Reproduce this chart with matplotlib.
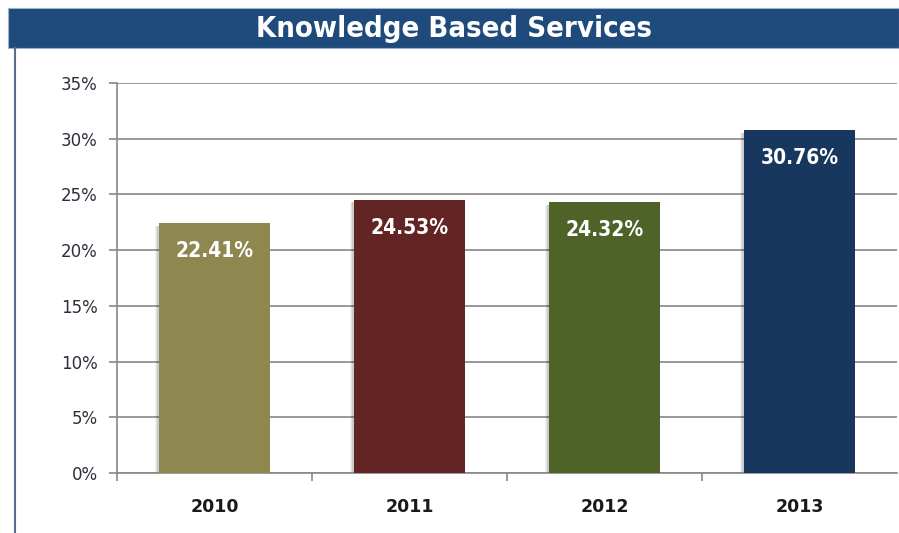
import numpy as np
import matplotlib.pyplot as plt
from matplotlib.patches import Rectangle
from matplotlib.lines import Line2D
from matplotlib.ticker import FuncFormatter

# data
years = ["2010", "2011", "2012", "2013"]
shares = [22.41, 24.53, 24.32, 30.76]
bar_colors = ["#8F8750", "#632523", "#4F6228", "#17375E"]
title = "Knowledge Based Services"

W, H = 899, 533
fig = plt.figure(figsize=(W / 100, H / 100), dpi=100)
fig.patch.set_facecolor("white")

# title band and left frame line
fig.add_artist(Rectangle((8 / W, 1 - 48 / H), 1 - 8 / W, 40 / H, transform=fig.transFigure,
                         facecolor="#1F4A7C", edgecolor="#9FB3CC", linewidth=0.8))
fig.add_artist(Line2D([15 / W, 15 / W], [0, 1 - 48 / H], transform=fig.transFigure,
                      color="#5A6E8C", linewidth=1.5))
fig.text(0.5 * (1 + 8 / W), 1 - 29 / H, title, color="white", fontsize=21, fontweight="bold",
         fontstretch="condensed", ha="center", va="center")

ax = fig.add_axes([117 / W, (H - 473) / H, (897 - 117) / W, (473 - 83) / H])
x = np.arange(len(years))
width = 0.57

# soft shadow behind bars
for dx, a in [(-0.014, 0.05), (-0.009, 0.07), (-0.004, 0.09)]:
    ax.bar(x + dx, shares, width=width + 0.01, bottom=-0.25, color="black",
           alpha=a, zorder=2, linewidth=0)
ax.bar(x, shares, width=width, color=bar_colors, zorder=3, linewidth=0)

for xi, v in zip(x, shares):
    ax.annotate(f"{v:.2f}%", (xi, v), xytext=(0, -28), textcoords="offset pixels",
                ha="center", va="center", color="white", fontsize=15, fontweight="bold",
                fontstretch="condensed", zorder=4)

ax.set_ylim(0, 35)
ax.set_xlim(-0.5, len(years) - 0.5)
ax.set_yticks(np.arange(0, 36, 5))
ax.yaxis.set_major_formatter(FuncFormatter(lambda v, p: f"{v:.0f}%"))
ax.grid(axis="y", color="#888888", linewidth=1.2, zorder=1)
ax.set_axisbelow(True)

ax.set_xticks(x)
ax.set_xticklabels(years, fontsize=12.5, fontweight="bold", color="#1a1a1a")
ax.tick_params(axis="x", length=0, pad=18)
ax.set_xticks(np.arange(-0.5, len(years), 1)[:-1], minor=True)
ax.tick_params(axis="x", which="minor", length=6, color="#888888", width=1.2)
ax.tick_params(axis="y", length=6, color="#888888", width=1.2, labelsize=12,
               labelcolor="#2b2f3a", pad=8)

for s in ["top", "right"]:
    ax.spines[s].set_visible(False)
for s in ["left", "bottom"]:
    ax.spines[s].set_color("#888888")
    ax.spines[s].set_linewidth(1.2)

fig.savefig("out.png", dpi=100)
